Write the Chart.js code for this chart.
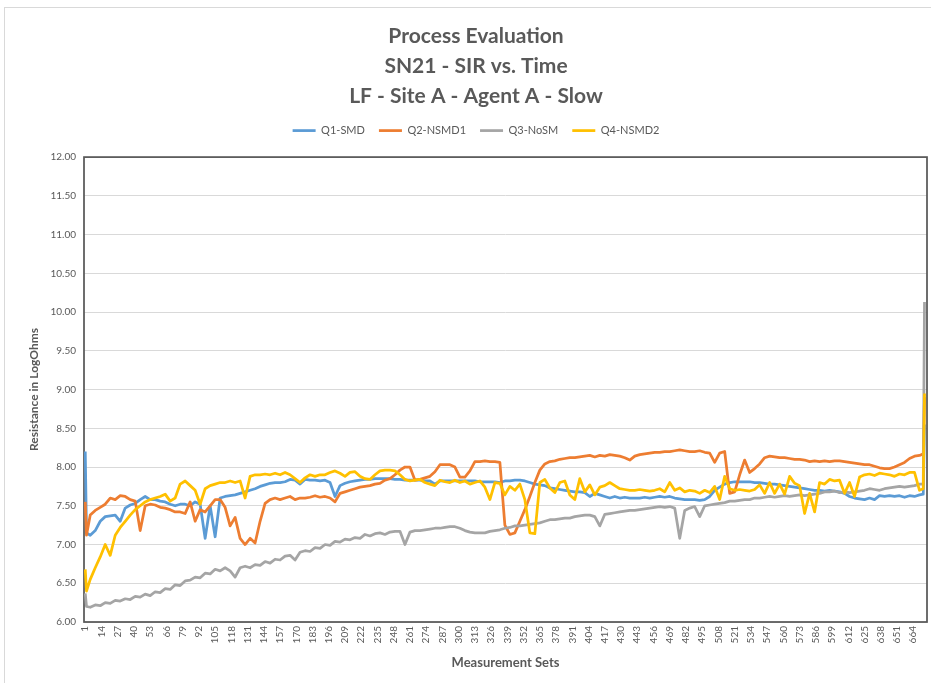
<!DOCTYPE html>
<html>
<head>
<meta charset="utf-8">
<title>Process Evaluation</title>
<script src="https://cdn.jsdelivr.net/npm/chart.js@4.4.0/dist/chart.umd.min.js"></script>
<style>
  html, body { margin: 0; padding: 0; background: #ffffff; }
  #wrap { position: relative; width: 931px; height: 683px; overflow: hidden; }
  #frame { position: absolute; left: 4px; top: 7px; width: 950px; height: 700px; border: 1px solid #d9d9d9; box-sizing: border-box; }
  canvas { position: absolute; left: 0; top: 0; }
</style>
</head>
<body>
<div id="wrap">
  <div id="frame"></div>
  <canvas id="SirChart" width="931" height="683"></canvas>
</div>
<script>
(function () {
  "use strict";

  // measurement sets sampled from the plot (x positions)
  const measurementSets = [
    1, 2, 5, 9, 13, 17, 21, 25, 29, 33, 37, 41, 45, 49, 53, 57, 61, 65, 69, 73,
    77, 81, 85, 89, 93, 97, 101, 105, 109, 113, 117, 121, 125, 129, 133, 137, 141, 145, 149, 153,
    157, 161, 165, 169, 173, 177, 181, 185, 189, 193, 197, 201, 205, 209, 213, 217, 221, 225, 229, 233,
    237, 241, 245, 249, 253, 257, 261, 265, 269, 273, 277, 281, 285, 289, 293, 297, 301, 305, 309, 313,
    317, 321, 325, 329, 333, 337, 341, 345, 349, 353, 357, 361, 365, 369, 373, 377, 381, 385, 389, 393,
    397, 401, 405, 409, 413, 417, 421, 425, 429, 433, 437, 441, 445, 449, 453, 457, 461, 465, 469, 473,
    477, 481, 485, 489, 493, 497, 501, 505, 509, 513, 517, 521, 525, 529, 533, 537, 541, 545, 549, 553,
    557, 561, 565, 569, 573, 577, 581, 585, 589, 593, 597, 601, 605, 609, 613, 617, 621, 625, 629, 633,
    637, 641, 645, 649, 653, 657, 661, 665, 669, 672, 673
  ];

  // Q1-SMD
  const q1Smd = [
    8.20, 7.15,
    7.12, 7.18, 7.30, 7.36, 7.37, 7.38, 7.30, 7.47, 7.51, 7.53,
    7.58, 7.62, 7.58, 7.58, 7.56, 7.55, 7.52, 7.50, 7.52, 7.52,
    7.50, 7.55, 7.52, 7.08, 7.50, 7.10, 7.60, 7.62, 7.63, 7.64,
    7.66, 7.68, 7.70, 7.72, 7.75, 7.77, 7.79, 7.80, 7.80, 7.81,
    7.84, 7.83, 7.78, 7.84, 7.83, 7.83, 7.82, 7.83, 7.80, 7.62,
    7.76, 7.79, 7.81, 7.82, 7.83, 7.84, 7.84, 7.85, 7.85, 7.85,
    7.85, 7.84, 7.84, 7.83, 7.83, 7.83, 7.83, 7.82, 7.82, 7.78,
    7.82, 7.82, 7.82, 7.82, 7.82, 7.82, 7.82, 7.82, 7.81, 7.81,
    7.81, 7.81, 7.80, 7.82, 7.82, 7.83, 7.83, 7.82, 7.80, 7.78,
    7.77, 7.76, 7.73, 7.72, 7.71, 7.70, 7.69, 7.68, 7.68, 7.67,
    7.62, 7.66, 7.64, 7.62, 7.60, 7.62, 7.60, 7.61, 7.60, 7.60,
    7.60, 7.61, 7.60, 7.61, 7.62, 7.61, 7.62, 7.60, 7.59, 7.58,
    7.58, 7.58, 7.57, 7.58, 7.62, 7.70, 7.74, 7.78, 7.80, 7.81,
    7.81, 7.81, 7.81, 7.80, 7.80, 7.79, 7.78, 7.78, 7.77, 7.76,
    7.75, 7.74, 7.73, 7.72, 7.71, 7.70, 7.70, 7.69, 7.70, 7.69,
    7.68, 7.66, 7.62, 7.60, 7.59, 7.58, 7.60, 7.58, 7.63, 7.62,
    7.63, 7.62, 7.63, 7.61, 7.63, 7.62, 7.64,
    7.65, 8.55
  ];

  // Q2-NSMD1
  const q2Nsmd1 = [
    7.55, 7.12,
    7.38, 7.44, 7.48, 7.52, 7.60, 7.58, 7.63, 7.62, 7.58, 7.56,
    7.18, 7.50, 7.52, 7.51, 7.48, 7.47, 7.45, 7.42, 7.42, 7.40,
    7.55, 7.30, 7.45, 7.42, 7.50, 7.58, 7.58, 7.48, 7.24, 7.35,
    7.08, 7.00, 7.08, 7.02, 7.30, 7.53, 7.58, 7.60, 7.58, 7.60,
    7.62, 7.58, 7.60, 7.60, 7.61, 7.63, 7.61, 7.62, 7.60, 7.55,
    7.66, 7.68, 7.70, 7.72, 7.74, 7.75, 7.76, 7.78, 7.79, 7.83,
    7.85, 7.90, 7.96, 8.00, 8.00, 7.83, 7.84, 7.86, 7.88, 7.94,
    8.03, 8.03, 8.03, 8.00, 7.87, 7.87, 7.95, 8.07, 8.07, 8.08,
    8.07, 8.07, 8.06, 7.25, 7.13, 7.15, 7.30, 7.45, 7.62, 7.80,
    7.96, 8.04, 8.07, 8.08, 8.10, 8.11, 8.12, 8.12, 8.13, 8.14,
    8.15, 8.13, 8.15, 8.14, 8.16, 8.15, 8.14, 8.12, 8.09, 8.14,
    8.16, 8.17, 8.18, 8.19, 8.19, 8.20, 8.20, 8.21, 8.22, 8.21,
    8.20, 8.20, 8.21, 8.19, 8.18, 8.06, 8.18, 8.20, 7.66, 7.68,
    7.90, 8.09, 7.93, 7.98, 8.04, 8.12, 8.14, 8.13, 8.12, 8.12,
    8.11, 8.10, 8.10, 8.09, 8.07, 8.08, 8.07, 8.08, 8.07, 8.08,
    8.08, 8.07, 8.06, 8.05, 8.04, 8.03, 8.03, 8.01, 7.99, 7.98,
    7.98, 8.00, 8.03, 8.06, 8.11, 8.14, 8.15,
    8.17, 8.90
  ];

  // Q3-NoSM
  const q3NoSm = [
    6.37, 6.20,
    6.19, 6.22, 6.21, 6.25, 6.24, 6.28, 6.27, 6.30, 6.29, 6.33,
    6.32, 6.36, 6.34, 6.39, 6.38, 6.43, 6.42, 6.48, 6.47, 6.53,
    6.54, 6.58, 6.57, 6.63, 6.62, 6.68, 6.66, 6.70, 6.66, 6.58,
    6.70, 6.72, 6.70, 6.74, 6.73, 6.78, 6.76, 6.81, 6.80, 6.85,
    6.86, 6.80, 6.90, 6.92, 6.91, 6.96, 6.95, 7.00, 6.99, 7.04,
    7.03, 7.07, 7.06, 7.09, 7.08, 7.13, 7.11, 7.14, 7.15, 7.13,
    7.16, 7.17, 7.17, 7.00, 7.16, 7.18, 7.18, 7.19, 7.20, 7.21,
    7.21, 7.22, 7.23, 7.23, 7.21, 7.18, 7.16, 7.15, 7.15, 7.15,
    7.17, 7.18, 7.19, 7.21, 7.22, 7.24, 7.24, 7.25, 7.26, 7.27,
    7.28, 7.30, 7.32, 7.32, 7.33, 7.34, 7.34, 7.36, 7.37, 7.38,
    7.38, 7.36, 7.24, 7.39, 7.40, 7.41, 7.42, 7.43, 7.44, 7.44,
    7.45, 7.46, 7.47, 7.48, 7.49, 7.48, 7.49, 7.47, 7.08, 7.44,
    7.47, 7.49, 7.36, 7.50, 7.51, 7.52, 7.53, 7.54, 7.56, 7.56,
    7.57, 7.58, 7.58, 7.60, 7.60, 7.61, 7.62, 7.61, 7.62, 7.63,
    7.62, 7.63, 7.64, 7.63, 7.64, 7.65, 7.66, 7.68, 7.68, 7.69,
    7.67, 7.68, 7.67, 7.68, 7.69, 7.70, 7.72, 7.71, 7.70, 7.72,
    7.73, 7.74, 7.75, 7.74, 7.75, 7.76, 7.78,
    7.78, 10.13
  ];

  // Q4-NSMD2
  const q4Nsmd2 = [
    6.68, 6.40,
    6.55, 6.70, 6.84, 7.00, 6.86, 7.12, 7.22, 7.30, 7.38, 7.45,
    7.50, 7.55, 7.58, 7.60, 7.62, 7.65, 7.56, 7.60, 7.78, 7.82,
    7.76, 7.70, 7.52, 7.72, 7.76, 7.78, 7.80, 7.80, 7.82, 7.80,
    7.82, 7.60, 7.88, 7.90, 7.90, 7.91, 7.90, 7.92, 7.90, 7.93,
    7.90, 7.85, 7.80, 7.86, 7.90, 7.88, 7.90, 7.90, 7.93, 7.95,
    7.92, 7.88, 7.93, 7.94, 7.88, 7.85, 7.84, 7.90, 7.95, 7.96,
    7.96, 7.95, 7.90, 7.84, 7.82, 7.83, 7.84, 7.80, 7.78, 7.76,
    7.83, 7.81, 7.80, 7.83, 7.80, 7.82, 7.78, 7.80, 7.82, 7.74,
    7.58, 7.80, 7.79, 7.64, 7.75, 7.70, 7.78, 7.58, 7.15, 7.14,
    7.80, 7.84, 7.73, 7.67, 7.80, 7.82, 7.64, 7.58, 7.85, 7.68,
    7.77, 7.64, 7.74, 7.76, 7.80, 7.76, 7.72, 7.71, 7.70, 7.70,
    7.71, 7.70, 7.69, 7.70, 7.72, 7.68, 7.80, 7.70, 7.73, 7.68,
    7.70, 7.69, 7.66, 7.70, 7.67, 7.75, 7.58, 7.88, 7.72, 7.70,
    7.71, 7.70, 7.69, 7.71, 7.77, 7.66, 7.80, 7.66, 7.78, 7.65,
    7.88, 7.79, 7.76, 7.40, 7.66, 7.42, 7.80, 7.78, 7.84, 7.82,
    7.83, 7.66, 7.80, 7.62, 7.87, 7.90, 7.91, 7.89, 7.92, 7.91,
    7.90, 7.88, 7.91, 7.90, 7.93, 7.93, 7.70,
    7.72, 8.95
  ];

  // category labels shown on the x axis
  const tickLabels = [
    1, 14, 27, 40, 53, 66, 79, 92, 105, 118, 131, 144, 157, 170, 183, 196, 209, 222, 235, 248,
    261, 274, 287, 300, 313, 326, 339, 352, 365, 378, 391, 404, 417, 430, 443, 456, 469, 482, 495, 508,
    521, 534, 547, 560, 573, 586, 599, 612, 625, 638, 651, 664
  ];

  const titleLines = ['Process Evaluation', 'SN21 - SIR vs. Time', 'LF - Site A - Agent A - Slow'];

  // colors (office palette)
  const text_gray   = '#595959';
  const grid_gray   = '#d9d9d9';
  const line_blue   = '#5b9bd5';
  const line_orange = '#ed7d31';
  const line_gray   = '#a5a5a5';
  const line_yellow = '#ffc000';
  const font_family = 'Lato, "Open Sans", sans-serif';

  const toPoints = (vals) => measurementSets.map((x, i) => ({ x: x, y: vals[i] }));

  const makeSet = (label, vals, color, order) => ({
    label: label,
    data: toPoints(vals),
    borderColor: color,
    backgroundColor: color,
    borderWidth: 2.75,
    borderJoinStyle: 'round',
    pointRadius: 0,
    tension: 0,
    fill: false,
    order: order
  });

  // dark frame around the plot area, under the lines
  const plotFrame = {
    id: 'plotFrame',
    beforeDatasetsDraw(chart) {
      const a = chart.chartArea;
      const ctx = chart.ctx;
      ctx.save();
      ctx.strokeStyle = text_gray;
      ctx.lineWidth = 1.75;
      ctx.strokeRect(a.left, a.top, a.right - a.left, a.bottom - a.top);
      ctx.restore();
    }
  };

  // extra room between legend and plot
  const legendGap = {
    id: 'legendGap',
    beforeInit(chart) {
      const originalFit = chart.legend.fit;
      chart.legend.fit = function fit() {
        originalFit.bind(chart.legend)();
        this.height += 11;
      };
    }
  };

  const ctx = document.getElementById('SirChart').getContext('2d');
  new Chart(ctx, {
    type: 'line',
    data: {
      datasets: [
        makeSet('Q1-SMD', q1Smd, line_blue, 4),
        makeSet('Q2-NSMD1', q2Nsmd1, line_orange, 3),
        makeSet('Q3-NoSM', q3NoSm, line_gray, 2),
        makeSet('Q4-NSMD2', q4Nsmd2, line_yellow, 1)
      ]
    },
    plugins: [plotFrame, legendGap],
    options: {
      responsive: false,
      animation: false,
      layout: { padding: { top: 21, left: 25, right: 4, bottom: 0 } },
      plugins: {
        title: {
          display: true,
          text: titleLines,
          color: text_gray,
          font: { family: font_family, size: 21, weight: 'bold', lineHeight: 1.43 },
          padding: { top: 0, bottom: 0 }
        },
        legend: {
          position: 'top',
          labels: {
            usePointStyle: true,
            pointStyle: 'line',
            pointStyleWidth: 23,
            color: text_gray,
            font: { family: font_family, size: 11 },
            padding: 14,
            sort: (a, b) => a.datasetIndex - b.datasetIndex
          }
        },
        tooltip: { enabled: false }
      },
      scales: {
        x: {
          type: 'linear',
          min: 0,
          max: 675,
          afterBuildTicks: (scale) => {
            scale.ticks = tickLabels.map((v) => ({ value: v }));
          },
          afterFit: (scale) => { scale.height = 61; },
          ticks: {
            autoSkip: false,
            minRotation: 90,
            maxRotation: 90,
            padding: 4,
            color: text_gray,
            font: { family: font_family, size: 10 },
            callback: (v) => String(v)
          },
          grid: { display: false, drawTicks: false },
          border: { display: false },
          title: {
            display: true,
            text: 'Measurement Sets',
            color: text_gray,
            font: { family: font_family, size: 13, weight: 'bold' },
            padding: { top: 2, bottom: 12 }
          }
        },
        y: {
          min: 6,
          max: 12,
          afterFit: (scale) => { scale.width = 59; },
          ticks: {
            stepSize: 0.5,
            padding: 8,
            color: text_gray,
            font: { family: font_family, size: 10 },
            callback: (v) => Number(v).toFixed(2)
          },
          grid: { color: grid_gray, lineWidth: 1, drawTicks: false },
          border: { display: false },
          title: {
            display: true,
            text: 'Resistance in LogOhms',
            color: text_gray,
            font: { family: font_family, size: 12, weight: 'bold' },
            padding: { top: 2, bottom: 0 }
          }
        }
      }
    }
  });
})();
</script>
</body>
</html>
